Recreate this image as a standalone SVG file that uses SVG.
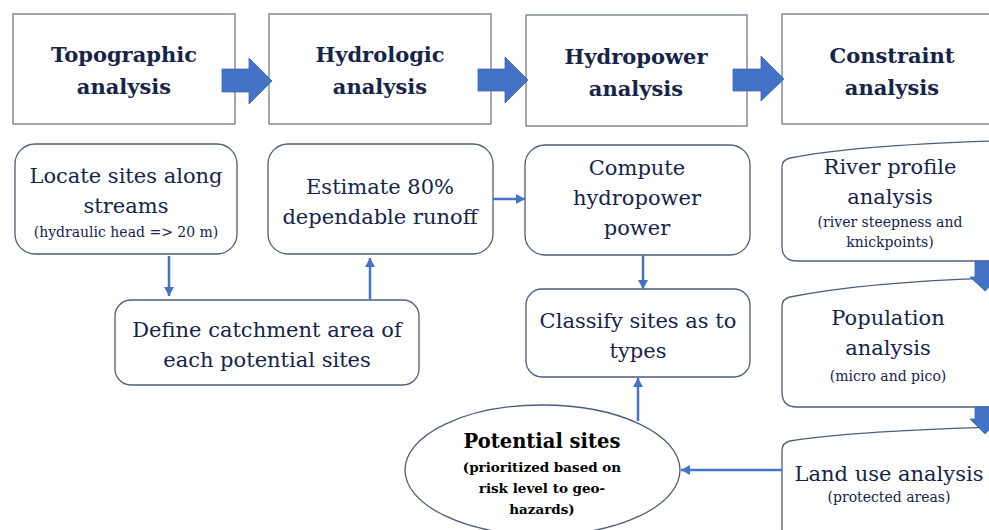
<svg xmlns="http://www.w3.org/2000/svg" width="989" height="530" viewBox="0 0 989 530">
<defs>
<style>
text{font-family:'DejaVu Serif','Liberation Serif',serif}
.hdr{fill:#fff;stroke:#6f7a8a;stroke-width:1.3}
.box{fill:#fff;stroke:#4d5d78;stroke-width:1.3}
.t{fill:#16244a;text-anchor:middle}
.hb{font-size:21px;font-weight:bold}
.m{font-size:21px}
.s{font-size:14px}
.e{fill:#000;text-anchor:middle;font-weight:bold}
.blk{fill:#4472c4;stroke:#3d67b3;stroke-width:0.8}
.con{stroke:#4472c4;stroke-width:2.5;fill:none}
</style>
<marker id="ah" markerUnits="userSpaceOnUse" markerWidth="9" markerHeight="10" refX="9" refY="5" orient="auto">
<path d="M0,0 L9,5 L0,10 z" fill="#4472c4"/>
</marker>
</defs>
<rect width="989" height="530" fill="#fff"/>

<g id="topographic">
<rect class="hdr" x="13" y="14" width="222" height="110"/>
<text class="t hb" x="124" y="62">Topographic</text>
<text class="t hb" x="124" y="94">analysis</text>
</g>
<g id="hydrologic">
<rect class="hdr" x="269" y="14" width="222" height="110"/>
<text class="t hb" x="380" y="62">Hydrologic</text>
<text class="t hb" x="380" y="94">analysis</text>
</g>
<g id="hydropower">
<rect class="hdr" x="526" y="15" width="221" height="111"/>
<text class="t hb" x="636" y="64">Hydropower</text>
<text class="t hb" x="636" y="96">analysis</text>
</g>
<g id="constraint">
<rect class="hdr" x="782" y="14" width="215" height="110"/>
<text class="t hb" x="892" y="63">Constraint</text>
<text class="t hb" x="892" y="95">analysis</text>
</g>

<g id="locate">
<rect class="box" x="15" y="144" width="222" height="110" rx="20"/>
<text class="t m" x="126" y="183">Locate sites along</text>
<text class="t m" x="126" y="213">streams</text>
<text class="t s" x="126" y="237">(hydraulic head =&gt; 20 m)</text>
</g>
<g id="estimate">
<rect class="box" x="268" y="144" width="225" height="110" rx="20"/>
<text class="t m" x="380" y="194">Estimate 80%</text>
<text class="t m" x="380" y="224">dependable runoff</text>
</g>
<g id="define">
<rect class="box" x="115" y="300" width="304" height="85" rx="16"/>
<text class="t m" x="267" y="337">Define catchment area of</text>
<text class="t m" x="267" y="367">each potential sites</text>
</g>
<g id="compute">
<rect class="box" x="525" y="145" width="225" height="110" rx="20"/>
<text class="t m" x="637" y="175">Compute</text>
<text class="t m" x="637" y="205">hydropower</text>
<text class="t m" x="637" y="235">power</text>
</g>
<g id="classify">
<rect class="box" x="526" y="289" width="224" height="88" rx="16"/>
<text class="t m" x="638" y="328">Classify sites as to</text>
<text class="t m" x="638" y="358">types</text>
</g>
<g id="potential">
<ellipse cx="542.5" cy="470" rx="137.5" ry="65" fill="#fff" stroke="#4d5d78" stroke-width="1.3"/>
<text class="e" x="542" y="448" font-size="19.5">Potential sites</text>
<text class="e" x="542" y="472" font-size="13.5">(prioritized based on</text>
<text class="e" x="542" y="493" font-size="13.5">risk level to geo-</text>
<text class="e" x="542" y="514" font-size="13.5">hazards)</text>
</g>

<g id="river">
<path class="box" d="M992,261 L797,261 Q782,261 782,246 L782,167 Q782,160 790,158 C830,150 900,144 992,141"/>
<text class="t m" x="890" y="174">River profile</text>
<text class="t m" x="890" y="204">analysis</text>
<text class="t s" x="890" y="227">(river steepness and</text>
<text class="t s" x="890" y="247">knickpoints)</text>
</g>
<g id="population">
<path class="box" d="M992,407 L797,407 Q782,407 782,392 L782,306 Q782,299 790,297 C830,289 900,281 992,278"/>
<text class="t m" x="888" y="325">Population</text>
<text class="t m" x="888" y="355">analysis</text>
<text class="t s" x="888" y="381">(micro and pico)</text>
</g>
<g id="landuse">
<path class="box" d="M782,540 L782,450 Q782,443 790,441 C830,434 900,430 992,427"/>
<text class="t m" x="889" y="481">Land use analysis</text>
<text class="t s" x="889" y="502">(protected areas)</text>
</g>

<g id="connectors">
<polygon class="blk" points="222,69 249,69 249,58 272,81 249,104 249,92 222,92"/>
<polygon class="blk" points="478,69 505,69 505,57 528,80 505,103 505,91 478,91"/>
<polygon class="blk" points="733,69 761,69 761,56 784,79 761,101 761,91 733,91"/>
<polygon class="blk" points="975,261 995,261 995,277 1000,277 985,291 970,277 975,277"/>
<polygon class="blk" points="975,407 995,407 995,419 1000,419 985,434 970,419 975,419"/>
<line class="con" x1="169" y1="256" x2="169" y2="296" marker-end="url(#ah)"/>
<line class="con" x1="370" y1="299" x2="370" y2="258" marker-end="url(#ah)"/>
<line class="con" x1="493" y1="199" x2="525" y2="199" marker-end="url(#ah)"/>
<line class="con" x1="643" y1="255" x2="643" y2="289" marker-end="url(#ah)"/>
<line class="con" x1="638" y1="421" x2="638" y2="378" marker-end="url(#ah)"/>
<line class="con" x1="782" y1="470" x2="681" y2="470" marker-end="url(#ah)"/>
</g>
</svg>
